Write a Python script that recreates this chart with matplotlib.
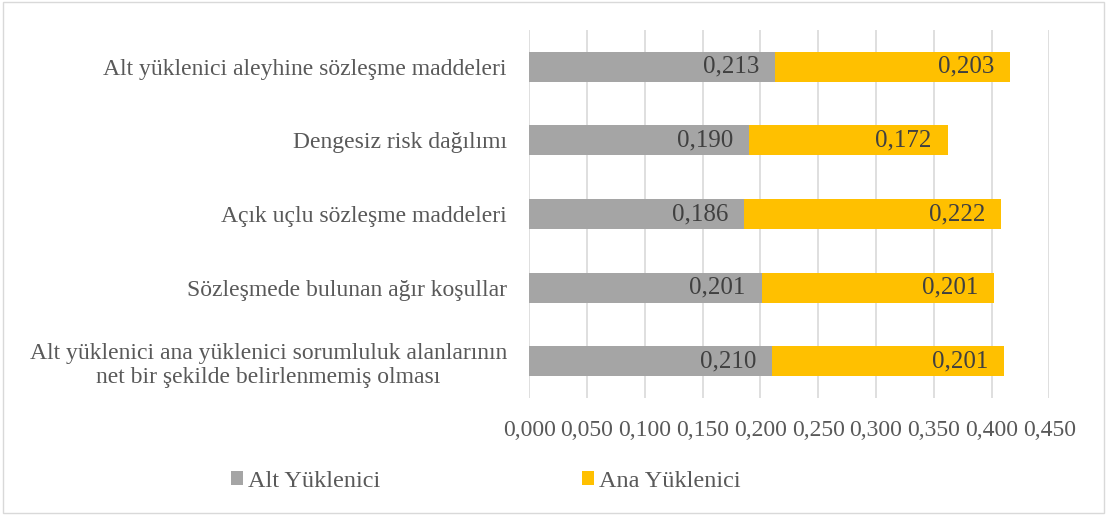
import matplotlib.pyplot as plt
from matplotlib.patches import Rectangle

categories = [
    "Alt yüklenici aleyhine sözleşme maddeleri",
    "Dengesiz risk dağılımı",
    "Açık uçlu sözleşme maddeleri",
    "Sözleşmede bulunan ağır koşullar",
    "Alt yüklenici ana yüklenici sorumluluk alanlarının\nnet bir şekilde belirlenmemiş olması",
]
alt = [0.213, 0.190, 0.186, 0.201, 0.210]
ana = [0.203, 0.172, 0.222, 0.201, 0.201]
xticks = [0.0, 0.05, 0.10, 0.15, 0.20, 0.25, 0.30, 0.35, 0.40, 0.45]

plt.rcParams['font.family'] = ['Liberation Serif', 'DejaVu Serif']
txt = '#595959'

fig = plt.figure(figsize=(11.07, 5.15), dpi=100)
ax = fig.add_axes([0.478, 0.227, 0.470, 0.715])

y = list(range(len(categories)))
b1 = ax.barh(y, alt, height=0.41, color='#A5A5A5', label='Alt Yüklenici', zorder=3)
b2 = ax.barh(y, ana, left=alt, height=0.41, color='#FFC000', label='Ana Yüklenici', zorder=3)

def fmt(v):
    return f"{v:.3f}".replace('.', ',')

for i in y:
    ax.annotate(fmt(alt[i]), (alt[i], i), xytext=(-11.5, 0), textcoords='offset points',
                ha='right', va='center', fontsize=18, color='#404040', zorder=4)
    ax.annotate(fmt(ana[i]), (alt[i] + ana[i], i), xytext=(-11.5, 0), textcoords='offset points',
                ha='right', va='center', fontsize=18, color='#404040', zorder=4)

ax.set_ylim(len(categories) - 0.5, -0.5)
ax.set_xlim(0, 0.45)
ax.set_yticks(y)
ax.set_yticklabels(categories, fontsize=17, color=txt, multialignment='center')
ax.set_xticks(xticks)
ax.set_xticklabels([fmt(v) for v in xticks], fontsize=17, color=txt)
ax.tick_params(length=0)
ax.tick_params(axis='y', pad=16)
ax.tick_params(axis='x', pad=16)
ax.grid(axis='x', color='#D9D9D9', linewidth=1.2, zorder=0)
for s in ax.spines.values():
    s.set_visible(False)

fig.legend(handles=[b1, b2], loc='center left', bbox_to_anchor=(0.189, 0.066),
           ncol=2, frameon=False, fontsize=17.5, handlelength=0.5, handleheight=0.5,
           handletextpad=0.2, columnspacing=8.3, labelcolor=txt)

fig.patches.append(Rectangle((0.003, 0.004), 0.994, 0.992, transform=fig.transFigure,
                             fill=False, edgecolor='#D9D9D9', linewidth=1))

fig.savefig('out.png', dpi=100, facecolor='white')
